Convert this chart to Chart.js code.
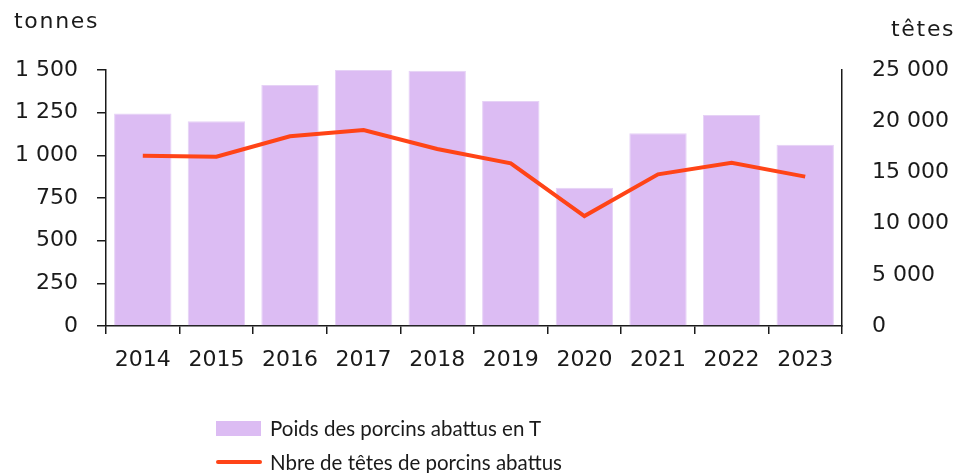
<!DOCTYPE html>
<html>
<head>
<meta charset="utf-8">
<script src="https://cdn.jsdelivr.net/npm/chart.js@4"></script>
<style>
  html, body { margin: 0; padding: 0; background: #ffffff; }
  #wrap { position: relative; width: 961px; height: 473px; overflow: hidden; }
  canvas { position: absolute; left: 0; top: 0; }
  .title { position: absolute; font-family: "DejaVu Sans", sans-serif; font-size: 22px; color: #1a1a1a; letter-spacing: 1.7px; line-height: 1; }
  .leg { position: absolute; font-family: Lato, "Noto Sans", sans-serif; font-size: 20.5px; color: #1a1a1a; line-height: 1; white-space: nowrap; }
  .box { position: absolute; width: 45px; height: 15px; background: #dcbcf3; }
  .ln { position: absolute; width: 46px; height: 4px; background: #ff4417; border-radius: 2px; }
</style>
</head>
<body>
<div id="wrap">
  <canvas id="c" width="961" height="473"></canvas>
  <div class="title" style="left:14px; top:10px;">tonnes</div>
  <div class="title" style="left:891px; top:18px;">têtes</div>
  <div class="box" style="left:216px; top:421px;"></div>
  <div class="leg" style="left:270px; top:418px;">Poids des porcins abattus en T</div>
  <div class="ln" style="left:216px; top:460px;"></div>
  <div class="leg" style="left:270px; top:452px;">Nbre de têtes de porcins abattus</div>
</div>
<script>
const years = ['2014', '2015', '2016', '2017', '2018', '2019', '2020', '2021', '2022', '2023'];
const poidsTonnes = [1245, 1200, 1412, 1500, 1495, 1318, 810, 1129, 1236, 1062];
const nbreTetes = [16630, 16535, 18525, 19140, 17285, 15885, 10740, 14810, 15950, 14585];
const leftTicks = [0, 250, 500, 750, 1000, 1250, 1500];
const rightTicks = [0, 5000, 10000, 15000, 20000, 25000];

function fmt(v) {
  return String(v).replace(/\B(?=(\d{3})+(?!\d))/g, ' ');
}

const tickFont = { family: 'DejaVu Sans', size: 22 };
const ink = '#1a1a1a';

new Chart(document.getElementById('c'), {
  data: {
    labels: years,
    datasets: [
      {
        type: 'line',
        label: 'Nbre de têtes de porcins abattus',
        data: nbreTetes,
        yAxisID: 'y1',
        borderColor: '#ff4417',
        borderWidth: 4,
        pointRadius: 0,
        tension: 0,
        order: 0
      },
      {
        type: 'bar',
        label: 'Poids des porcins abattus en T',
        data: poidsTonnes,
        yAxisID: 'y',
        backgroundColor: '#dcbcf3',
        borderColor: '#e6d2f6',
        borderWidth: 1,
        categoryPercentage: 0.78,
        barPercentage: 1,
        order: 1
      }
    ]
  },
  options: {
    responsive: false,
    animation: false,
    layout: { padding: { top: 70, bottom: 97, left: 0, right: 0 } },
    plugins: { legend: { display: false }, tooltip: { enabled: false } },
    scales: {
      x: {
        offset: true,
        border: { display: true, color: ink, width: 1.5 },
        grid: { drawOnChartArea: false, drawTicks: true, tickLength: 8, color: ink, lineWidth: 1.5 },
        ticks: { font: tickFont, color: ink, padding: 13, maxRotation: 0 },
        afterFit: s => { s.height = 50; }
      },
      y: {
        position: 'left',
        min: 0, max: 1500,
        afterBuildTicks: s => { s.ticks = leftTicks.map(v => ({ value: v })); },
        border: { display: true, color: ink, width: 1.5 },
        grid: { drawOnChartArea: false, drawTicks: true, tickLength: 9, color: ink, lineWidth: 1.5 },
        ticks: { font: tickFont, color: ink, padding: 19, callback: v => fmt(v) },
        afterFit: s => { s.width = 106; }
      },
      y1: {
        position: 'right',
        min: 0, max: 25000,
        afterBuildTicks: s => { s.ticks = rightTicks.map(v => ({ value: v })); },
        border: { display: true, color: ink, width: 1.5 },
        grid: { drawOnChartArea: false, drawTicks: false },
        ticks: { font: tickFont, color: ink, padding: 30, callback: v => fmt(v) },
        afterFit: s => { s.width = 119; }
      }
    }
  }
});
</script>
</body>
</html>
